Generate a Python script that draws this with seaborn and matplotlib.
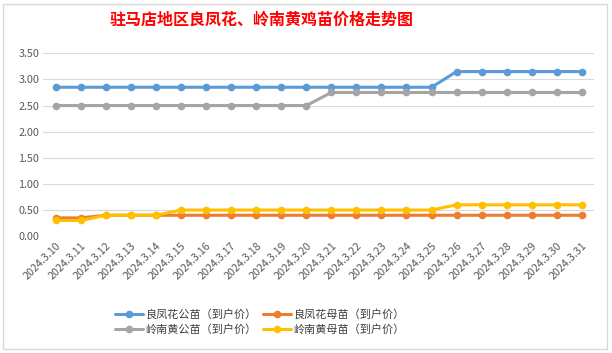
import matplotlib
matplotlib.use("Agg")
import matplotlib.pyplot as plt
import seaborn as sns
import pandas as pd
from matplotlib.patches import Rectangle

dates = ['2024.3.%d' % d for d in range(10, 32)]
series_names = ['良凤花公苗（到户价）', '良凤花母苗（到户价）',
                '岭南黄公苗（到户价）', '岭南黄母苗（到户价）']
lfh_male = [2.85] * 16 + [3.15] * 6
lfh_female = [0.35, 0.35] + [0.40] * 20
lnh_male = [2.50] * 11 + [2.75] * 11
lnh_female = [0.30, 0.30, 0.40, 0.40, 0.40] + [0.50] * 11 + [0.60] * 6
colors = ['#5B9BD5', '#ED7D31', '#A5A5A5', '#FFC000']

sns.set_theme(style='white')
plt.rcParams['font.family'] = ['Noto Sans CJK SC', 'DejaVu Sans']

df = pd.DataFrame({'date': dates,
                   series_names[0]: lfh_male,
                   series_names[1]: lfh_female,
                   series_names[2]: lnh_male,
                   series_names[3]: lnh_female})
df['idx'] = range(len(dates))
long = df.melt(id_vars=['date', 'idx'], var_name='series', value_name='price')

fig = plt.figure(figsize=(6.12, 3.53), dpi=100)
ax = fig.add_axes([0.071, 0.331, 0.9, 0.518])

sns.lineplot(data=long, x='idx', y='price', hue='series', hue_order=series_names,
             palette=colors, marker='o', markersize=5.5, markeredgewidth=0,
             linewidth=2.2, ax=ax, legend=True)

ax.set_xlim(-0.5, len(dates) - 0.5)
ax.set_ylim(0, 3.5)
ax.set_yticks([i * 0.5 for i in range(8)])
ax.set_yticklabels(['%.2f' % (i * 0.5) for i in range(8)])
ax.set_xticks(range(len(dates)))
ax.set_xticklabels(dates, rotation=45, ha='right', rotation_mode='anchor')
ax.tick_params(axis='both', labelsize=7.8, colors='#595959', length=0, pad=3)
ax.grid(axis='y', color='#D9D9D9', linewidth=0.8)
ax.set_axisbelow(True)
for s in ax.spines.values():
    s.set_visible(False)
ax.set_xlabel('')
ax.set_ylabel('')

# legend fills row by row in the reference
handles, labels = ax.get_legend_handles_labels()
ax.legend_.remove()
order = [0, 2, 1, 3]
fig.legend([handles[i] for i in order], [labels[i] for i in order], ncol=2,
           loc='center', bbox_to_anchor=(260 / 612, 0.088),
           frameon=False, fontsize=8, handlelength=2.5, columnspacing=0.6,
           labelspacing=0.45, handletextpad=0.2, labelcolor='#404040')

fig.text(262 / 612, 1 - 20 / 353, '驻马店地区良凤花、岭南黄鸡苗价格走势图',
         ha='center', va='center', color='#FF0000', fontsize=11.5,
         fontweight='bold')

fig.patches.append(Rectangle((3 / 612, 4 / 353), 604 / 612, 345 / 353,
                             transform=fig.transFigure, fill=False,
                             edgecolor='#D9D9D9', linewidth=1))

fig.savefig('out.png', dpi=100)
